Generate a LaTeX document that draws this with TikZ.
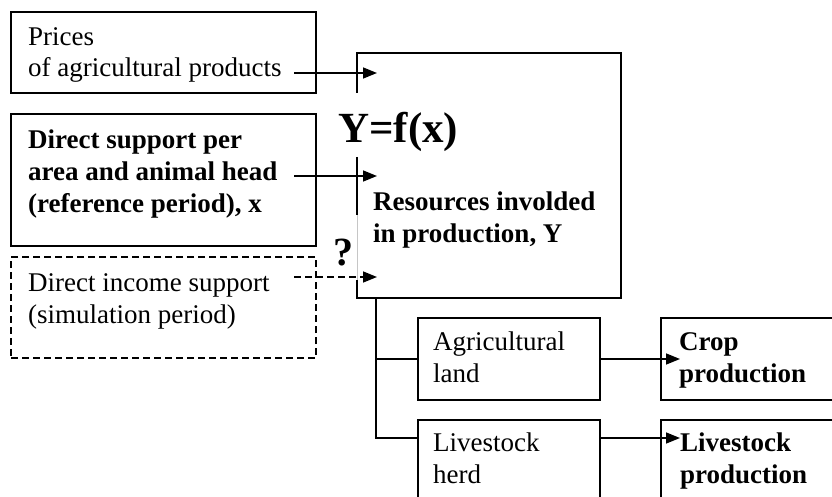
\documentclass[tikz,border=0pt]{standalone}
\usepackage{fontspec}
\setmainfont{Liberation Serif}
\usetikzlibrary{arrows.meta}
\begin{document}
\begin{tikzpicture}[x=1pt,y=-1pt,
  frame/.style={draw=black,line width=1.5pt,inner sep=0pt,outer sep=0pt,anchor=north west},
  txt/.style={inner sep=0pt,anchor=base west,align=left,font=\fontsize{27pt}{31.5pt}\selectfont},
  btxt/.style={inner sep=0pt,anchor=base west,align=left,font=\fontsize{27pt}{31.5pt}\selectfont\bfseries},
  bigtxt/.style={inner sep=0pt,anchor=base west,font=\fontsize{#1}{#1}\selectfont\bfseries},
  arr/.style={line width=1.5pt,-{Triangle[length=14pt,width=11pt]}},
  dsh/.style={dash pattern=on 7pt off 4pt},
  edge/.style={line width=1.5pt}]
\useasboundingbox (0,0) rectangle (832,497);
\clip (0,0) rectangle (832,497);
\fill[white] (0,0) rectangle (832,497);

% boxes
\node[frame,minimum width=305pt,minimum height=81pt] (prices) at (11,12) {};
\node[frame,minimum width=305pt,minimum height=132pt] (support) at (11,114) {};
\node[frame,dsh,minimum width=305pt,minimum height=101pt] (income) at (11,257) {};
\node[inner sep=0pt,outer sep=0pt,anchor=north west,minimum width=264pt,minimum height=245pt] (main) at (357,53) {};
\node[frame,minimum width=182pt,minimum height=82pt] (agland) at (418,318) {};
\node[frame,minimum width=182pt,minimum height=130pt] (herd) at (418,420) {};
\node[frame,minimum width=220pt,minimum height=82pt] (crop) at (661,318) {};
\node[frame,minimum width=220pt,minimum height=130pt] (lprod) at (661,420) {};

% main box border
\draw[edge] ([yshift=-40pt]main.north west) -- (main.north west) -- (main.north east)
  -- (main.south east) -- (main.south west) -- ([yshift=18pt]main.south west);
\draw[edge] ([yshift=-104pt]main.north west) -- ([yshift=-162pt]main.north west);
\draw[gray!45,line width=0.8pt] ([yshift=-162pt]main.north west) -- ([yshift=18pt]main.south west);

% texts (anchor = baseline of the last line)
\node[txt] (tprices) at (28,77) {Prices\\of agricultural products};
\node[btxt] (tsupport) at (28,212) {Direct support per\\area and animal head\\(reference period), x};
\node[txt] (tincome) at (28,323) {Direct income support\\(simulation period)};
\node[btxt] (tres) at (373,242) {Resources involded\\in production, Y};
\node[bigtxt=43pt] (yfx) at (338,143) {Y=f(x)};
\node[bigtxt=40pt] (q) at (333,265) {?};
\node[txt] (tag) at (433,382) {Agricultural\\land};
\node[txt] (therd) at (433,483) {Livestock\\herd};
\node[btxt] (tcrop) at (679,382) {Crop\\production};
\node[btxt] (tlp) at (680,483) {Livestock\\production};

% input arrows
\coordinate (s1) at (294,73);  \coordinate (e1) at (377,73);
\coordinate (s2) at (294,176); \coordinate (e2) at (377,176);
\coordinate (s3) at (294,277); \coordinate (e3) at (377,277);
\draw[arr] (s1) -- (e1);
\draw[arr] (s2) -- (e2);
\draw[arr,dsh] (s3) -- (e3);

% lower connectors
\coordinate (trunk) at ([xshift=19pt]main.south west);
\coordinate (herdin) at ([yshift=-18pt]herd.north west);
\draw[edge] (trunk) |- (agland.west);
\draw[edge] (trunk) |- (herdin);
\coordinate (cropin) at ([xshift=19pt]crop.west |- agland.east);
\coordinate (herdout) at (herd.east |- herdin);
\coordinate (lprodin) at ([xshift=19pt]lprod.west |- herdin);
\draw[arr] (agland.east) -- (cropin);
\draw[arr] (herdout) -- (lprodin);
\end{tikzpicture}
\end{document}
